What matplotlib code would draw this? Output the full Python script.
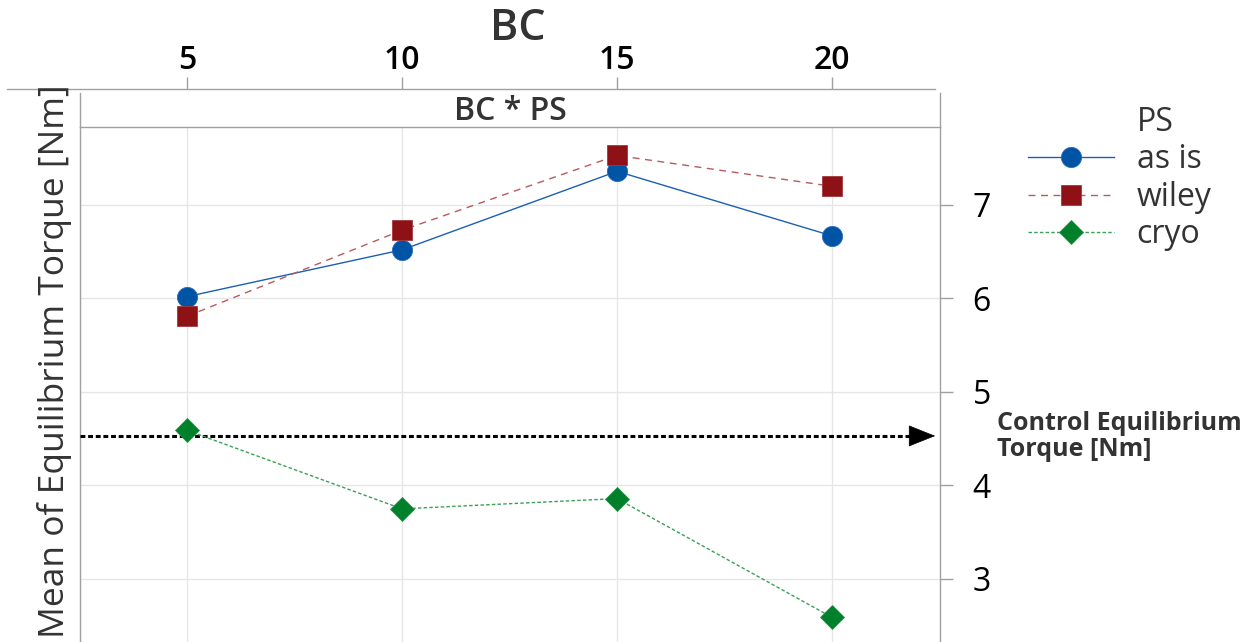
import matplotlib
matplotlib.use('Agg')
import matplotlib.pyplot as plt
from matplotlib.lines import Line2D

plt.rcParams['font.family'] = ['Open Sans', 'DejaVu Sans']
plt.rcParams['lines.scale_dashes'] = False

# interaction plot data: mean equilibrium torque per BC level and PS group
bc = [5, 10, 15, 20]
as_is = [6.02, 6.52, 7.36, 6.67]
wiley = [5.81, 6.73, 7.53, 7.20]
cryo = [4.59, 3.75, 3.86, 2.59]
control_torque = 4.53
y_ticks = [3, 4, 5, 6, 7]

W, H = 1255, 642
fig = plt.figure(figsize=(W / 100, H / 100), dpi=100)

GRID = '#E6E6E6'
FRAME = '#A0A0A0'
TEXT = '#333333'

def px(x0, y0, x1, y1):
    # pixel box (top-left origin) -> figure fraction rect
    return [x0 / W, 1 - y1 / H, (x1 - x0) / W, (y1 - y0) / H]

# main panel
ax = fig.add_axes(px(80, 127, 940, 642))
xlim = (2.512, 22.512)
ax.set_xlim(*xlim)
ax.set_ylim(2.326, 7.834)
ax.set_xticks(bc)
ax.set_yticks(y_ticks)
ax.grid(True, color=GRID, lw=1.0)
ax.set_axisbelow(True)
for s in ['top', 'bottom']:
    ax.spines[s].set_visible(False)
for s in ['left', 'right']:
    ax.spines[s].set_color(FRAME)
    ax.spines[s].set_linewidth(1.0)
ax.tick_params(axis='x', length=0, labelbottom=False)
ax.yaxis.tick_right()
ax.tick_params(axis='y', direction='out', length=9.5, width=1.0, color=FRAME,
               pad=14, labelsize=23, labelcolor='black')
for t in ax.get_yticklabels():
    t.set_fontweight('medium')

ax.plot(bc, as_is, color='#1B5FB4', lw=1.0, ls='-', marker='o', ms=14.5,
        mfc='#0054A6', mec='#2C68B3', mew=0.6, zorder=4)
ax.plot(bc, wiley, color='#B85A5E', lw=1.0, ls=(0, (5, 4)), marker='s', ms=14.5,
        mfc='#8E1116', mec='#A03A3E', mew=0.6, zorder=5)
ax.plot(bc, cryo, color='#3AA055', lw=1.0, ls=(0, (2.5, 1.6)), marker='D', ms=12,
        mfc='#00802B', mec='#2A9447', mew=0.6, zorder=5)

# control reference arrow
tip = 22.4
ax.plot([xlim[0], tip - 0.45], [control_torque] * 2, color='black', lw=2.2,
        ls=(0, (3.5, 2.0)), zorder=3, solid_capstyle='butt')
ax.annotate('', xy=(tip, control_torque), xytext=(tip - 0.5, control_torque),
            arrowprops=dict(arrowstyle='-|>,head_length=0.9,head_width=0.36',
                            color='black', lw=0.5, mutation_scale=20,
                            shrinkA=0, shrinkB=0), zorder=6)

# strip header
strip = fig.add_axes(px(80, 93, 940, 127))
strip.set_xticks([])
strip.set_yticks([])
strip.spines['top'].set_visible(False)
for s in ['left', 'right', 'bottom']:
    strip.spines[s].set_color(FRAME)
    strip.spines[s].set_linewidth(1.0)
strip.text(0.5, 0.45, 'BC * PS', transform=strip.transAxes, ha='center',
           va='center', fontsize=23, color=TEXT, fontweight='semibold')

# top BC axis
top = fig.add_axes(px(7, 89, 935, 90))
scale = (xlim[1] - xlim[0]) / (940 - 80)
top.set_xlim(xlim[0] + (7 - 80) * scale, xlim[1] + (935 - 940) * scale)
top.set_xticks(bc)
top.set_yticks([])
top.patch.set_visible(False)
for s in ['left', 'right', 'bottom']:
    top.spines[s].set_visible(False)
top.spines['top'].set_color(FRAME)
top.spines['top'].set_linewidth(1.0)
top.xaxis.tick_top()
top.tick_params(axis='x', direction='out', length=8.5, width=1.0, color=FRAME,
                pad=0, labelsize=23, labelcolor='black')
for t in top.get_xticklabels():
    t.set_fontweight('semibold')

fig.text(518 / W, 1 - 28 / H, 'BC', ha='center', va='center', fontsize=31,
         color=TEXT, fontweight='semibold')
fig.text(55 / W, 1 - 361 / H, 'Mean of Equilibrium Torque [Nm]', rotation=90,
         ha='center', va='center', fontsize=25.5, color=TEXT)
fig.text(997 / W, 1 - 411 / H, 'Control Equilibrium\nTorque [Nm]', ha='left',
         va='top', fontsize=18, fontweight='bold', color=TEXT, linespacing=1.05)

handles = [
    Line2D([], [], color='none'),
    Line2D([], [], color='#1B5FB4', lw=1.0, marker='o', ms=14.5,
           mfc='#0054A6', mec='#2C68B3', mew=0.6),
    Line2D([], [], color='#B85A5E', lw=1.0, ls=(0, (5, 4)), marker='s', ms=14.5,
           mfc='#8E1116', mec='#A03A3E', mew=0.6),
    Line2D([], [], color='#3AA055', lw=1.0, ls=(0, (2.5, 1.6)), marker='D', ms=12,
           mfc='#00802B', mec='#2A9447', mew=0.6),
]
labels = ['PS', 'as is', 'wiley', 'cryo']
leg = fig.legend(handles, labels, loc='upper left',
                 bbox_to_anchor=(1028 / W, 1 - 106 / H), frameon=False,
                 fontsize=23, handlelength=2.7, handletextpad=0.7,
                 labelspacing=0.14, borderpad=0, borderaxespad=0)
for t in leg.get_texts():
    t.set_color(TEXT)

fig.savefig('out.png', dpi=100)
